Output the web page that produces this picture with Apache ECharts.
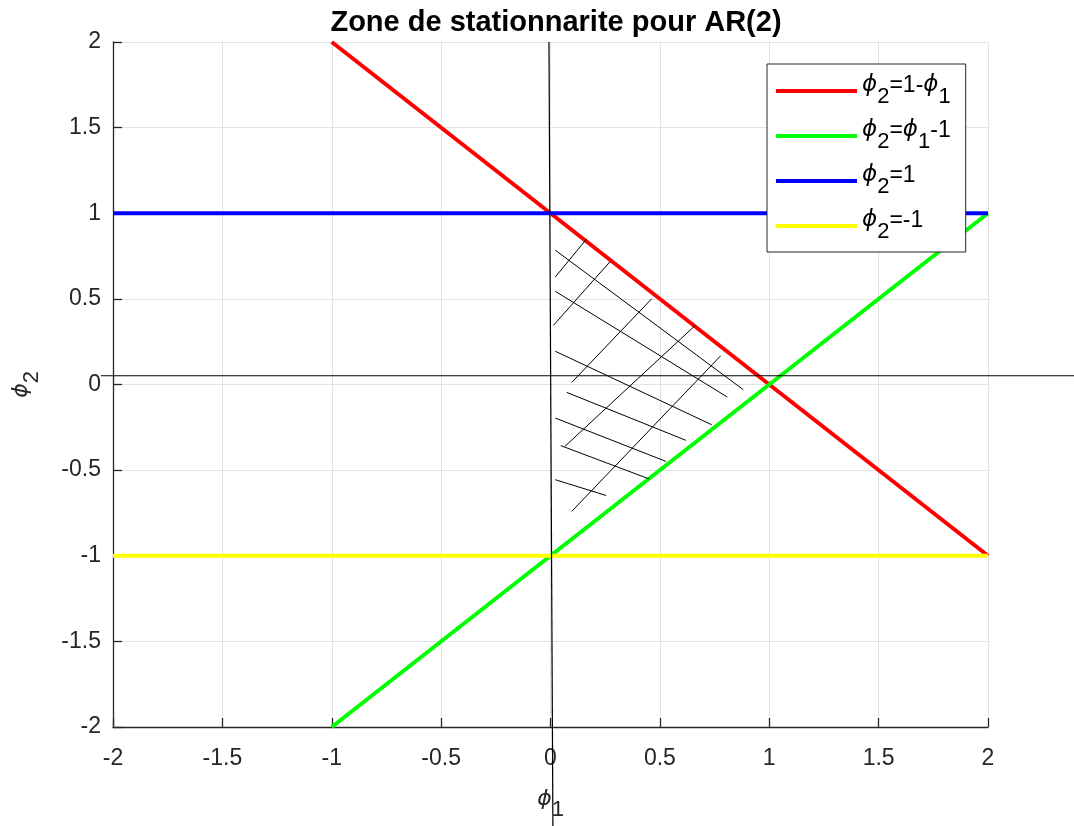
<!DOCTYPE html>
<html>
<head>
<meta charset="utf-8">
<script src="https://cdn.jsdelivr.net/npm/echarts@6/dist/echarts.min.js"></script>
<style>
html,body{margin:0;padding:0;background:#fff;}
#chart{width:1074px;height:826px;}
</style>
</head>
<body>
<div id="chart"></div>
<script>
// ---- data ----
const xTickValues = [-2, -1.5, -1, -0.5, 0, 0.5, 1, 1.5, 2];
const yTickValues = [-2, -1.5, -1, -0.5, 0, 0.5, 1, 1.5, 2];
const redX = [-1, 2],   redY = [2, -1];     // phi2 = 1 - phi1
const greenX = [-1, 2], greenY = [-2, 1];   // phi2 = phi1 - 1
const blueX = [-2, 2],  blueY = [1, 1];     // phi2 = 1
const yellowX = [-2, 2], yellowY = [-1, -1];// phi2 = -1
// annotation axes (drawn in figure space in the original) [x1, y1, x2, y2]
const annotLines = [
  [-0.007, 2.0, 0.011, -2.58],
  [-2.055, 0.051, 2.45, 0.051]
];
// hatch segments [x1, y1, x2, y2]
const hatchUp = [
  [0.022, 0.628, 0.165, 0.850],
  [0.013, 0.345, 0.272, 0.717],
  [0.097, 0.012, 0.463, 0.501],
  [0.066, -0.361, 0.660, 0.343],
  [0.097, -0.741, 0.778, 0.168]
];
const hatchDown = [
  [0.022, 0.784, 0.881, -0.030],
  [0.022, 0.544, 0.808, -0.073],
  [0.022, 0.194, 0.737, -0.235],
  [0.074, -0.046, 0.619, -0.326],
  [0.022, -0.196, 0.528, -0.449],
  [0.047, -0.357, 0.452, -0.552],
  [0.022, -0.556, 0.254, -0.648]
];
const seriesNames = ['red', 'green', 'blue', 'yellow'];
const legendLabels = {
  red: '{p|ϕ}{s|2}{t|=1-}{p|ϕ}{s|1}',
  green: '{p|ϕ}{s|2}{t|=}{p|ϕ}{s|1}{t|-1}',
  blue: '{p|ϕ}{s|2}{t|=1}',
  yellow: '{p|ϕ}{s|2}{t|=-1}'
};
const title = 'Zone de stationnarite pour AR(2)';

// ---- build ----
const FONT = 'Liberation Sans, Arial, Helvetica, sans-serif';
const PHI_FONT = 'DejaVu Sans, sans-serif';
function pts(xs, ys) { return xs.map((x, i) => [x, ys[i]]); }
const richText = {
  p: { fontSize: 23, fontFamily: PHI_FONT, fontStyle: 'italic', color: '#000', verticalAlign: 'top' },
  t: { fontSize: 23, fontFamily: FONT, color: '#000', verticalAlign: 'top' },
  s: { fontSize: 22, fontFamily: FONT, color: '#000', verticalAlign: 'top', padding: [12, 0, 0, 0] }
};
const axisRich = {
  p: { fontSize: 22, fontFamily: PHI_FONT, fontStyle: 'italic', color: '#262626', verticalAlign: 'top' },
  s: { fontSize: 22, fontFamily: FONT, color: '#262626', verticalAlign: 'top', padding: [11, 0, 0, 0] }
};
function mainLine(name, xs, ys, color) {
  return {
    name: name, type: 'line', data: pts(xs, ys), showSymbol: false, symbol: 'none',
    lineStyle: { color: color, width: 4 }, itemStyle: { color: color },
    animation: false, silent: true, z: 2
  };
}
function segSeries(list, width) {
  return {
    type: 'custom', coordinateSystem: 'cartesian2d', silent: true, animation: false, z: 6, clip: false,
    data: list,
    encode: { x: [0, 2], y: [1, 3] },
    renderItem: function (params, api) {
      const p1 = api.coord([api.value(0), api.value(1)]);
      const p2 = api.coord([api.value(2), api.value(3)]);
      return {
        type: 'line',
        shape: { x1: p1[0], y1: p1[1], x2: p2[0], y2: p2[1] },
        style: { stroke: '#000', lineWidth: width }
      };
    }
  };
}
const chart = echarts.init(document.getElementById('chart'), null, { renderer: 'canvas' });
chart.setOption({
  backgroundColor: '#fff',
  animation: false,
  title: {
    text: title, left: 551, textAlign: 'center', top: 3,
    textStyle: { fontFamily: FONT, fontWeight: 'bold', fontSize: 29, color: '#000' }
  },
  grid: { left: 113, right: 86, top: 42, bottom: 99 },
  legend: {
    data: seriesNames, orient: 'vertical', left: 767, top: 64,
    padding: [10, 15, 9, 9], itemGap: 11, itemWidth: 81, itemHeight: 4, icon: 'rect',
    backgroundColor: '#fff', borderColor: '#262626', borderWidth: 1, borderRadius: 0,
    formatter: n => legendLabels[n],
    textStyle: { fontFamily: FONT, fontSize: 23, color: '#000', rich: richText }
  },
  xAxis: {
    type: 'value', min: -2, max: 2, interval: 0.5,
    name: '{p|ϕ}{s|1}', nameLocation: 'middle', nameGap: 61,
    nameTextStyle: { rich: axisRich },
    axisLine: { onZero: false, lineStyle: { color: '#262626', width: 1.3 } },
    axisTick: { inside: true, length: 9, lineStyle: { color: '#262626', width: 1.3 } },
    axisLabel: { margin: 20, fontFamily: FONT, fontSize: 23, color: '#262626',
      formatter: v => String(xTickValues.find(t => Math.abs(t - v) < 1e-9)) },
    splitLine: { show: true, lineStyle: { color: '#e3e3e3', width: 1 } }
  },
  yAxis: {
    type: 'value', min: -2, max: 2, interval: 0.5,
    name: '{p|ϕ}{s|2}', nameLocation: 'middle', nameGap: 70, nameRotate: 90,
    nameTextStyle: { rich: axisRich },
    axisLine: { onZero: false, lineStyle: { color: '#262626', width: 1.3 } },
    axisTick: { inside: true, length: 9, lineStyle: { color: '#262626', width: 1.3 } },
    axisLabel: { margin: 12, fontFamily: FONT, fontSize: 23, color: '#262626',
      formatter: v => String(yTickValues.find(t => Math.abs(t - v) < 1e-9)) },
    splitLine: { show: true, lineStyle: { color: '#e3e3e3', width: 1 } }
  },
  series: [
    mainLine('red', redX, redY, '#ff0000'),
    mainLine('green', greenX, greenY, '#00ff00'),
    mainLine('blue', blueX, blueY, '#0000ff'),
    mainLine('yellow', yellowX, yellowY, '#ffff00'),
    segSeries(annotLines, 1.2),
    segSeries(hatchUp, 1),
    segSeries(hatchDown, 1)
  ]
});
</script>
</body>
</html>
